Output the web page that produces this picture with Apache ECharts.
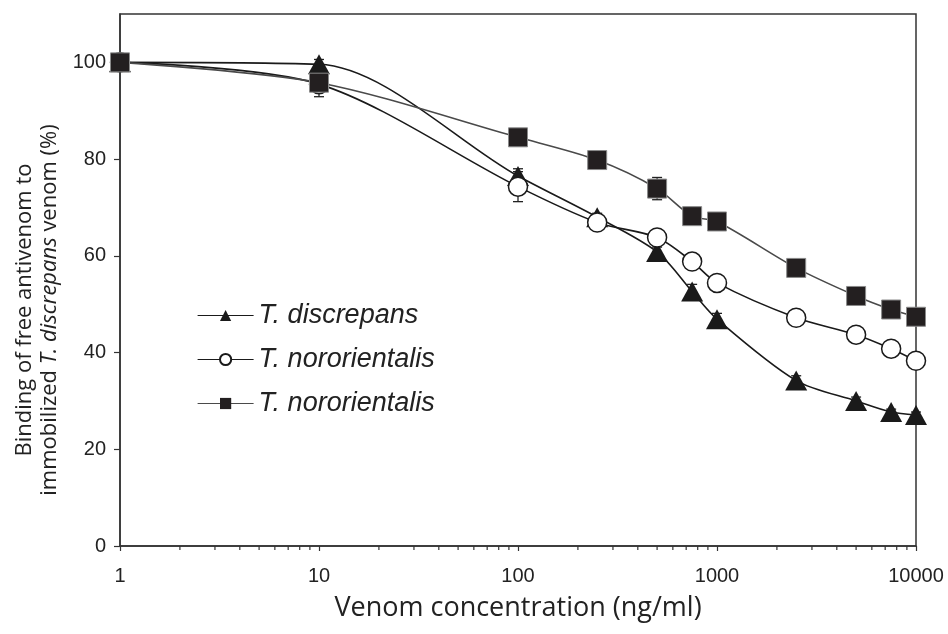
<!DOCTYPE html>
<html>
<head>
<meta charset="utf-8">
<script src="https://cdn.jsdelivr.net/npm/echarts@6/dist/echarts.min.js"></script>
<style>
  html, body { margin: 0; padding: 0; background: #fff; }
  #chart { width: 948px; height: 634px; }
</style>
</head>
<body>
<div id="chart"></div>
<script>
// venom concentration (ng/ml)
const concentrations = [1, 10, 100, 250, 500, 750, 1000, 2500, 5000, 7500, 10000]
// binding (%)
const discrepans = [100, 99.6, 76.5, 68, 60.8, 52.6, 46.9, 34.2, 30.0, 27.7, 27.1]
const nororientalisA = [100, 95.5, 74.3, 66.9, 63.8, 58.8, 54.4, 47.2, 43.7, 40.8, 38.3]
const nororientalisB = [100, 95.8, 84.5, 79.8, 73.9, 68.2, 67.1, 57.5, 51.7, 48.9, 47.4]
// error bars (+/-)
const discrepansErr = [0.5, 1.0, 1.5, 0.8, 1.0, 1.5, 1.2, 1.0, 0.8, 0.6, 0.6]
const nororientalisAErr = [0.5, 1.0, 3.1, 0.8, 0.8, 0.8, 1.2, 0.8, 1.5, 0.8, 0.6]
const nororientalisBErr = [1.8, 2.9, 0.8, 0.8, 2.3, 0.8, 0.6, 0.8, 0.8, 0.6, 0.6]
const seriesNames = ['T. discrepans', 'T. nororientalis', 'T. nororientalis ']
const minorTickValues = [2, 3, 4, 5, 6, 7, 8, 9, 20, 30, 40, 50, 60, 70, 80, 90,
  200, 300, 400, 500, 600, 700, 800, 900, 2000, 3000, 4000, 5000, 6000, 7000, 8000, 9000]
const yTicks = { min: 0, max: 110, interval: 20 }

const chart = echarts.init(document.getElementById('chart'))

function pairs(ys) {
  return concentrations.map((x, i) => [x, ys[i]])
}

function errData(ys, errs) {
  return concentrations.map((x, i) => [x, ys[i], errs[i]])
}

function renderErr(params, api) {
  const x = api.value(0)
  const y = api.value(1)
  const e = api.value(2)
  const top = api.coord([x, y + e])
  const bot = api.coord([x, y - e])
  const hw = 5
  const style = { stroke: '#222', lineWidth: 1.3 }
  return {
    type: 'group',
    children: [
      { type: 'line', shape: { x1: top[0], y1: top[1], x2: bot[0], y2: bot[1] }, style },
      { type: 'line', shape: { x1: top[0] - hw, y1: top[1], x2: top[0] + hw, y2: top[1] }, style },
      { type: 'line', shape: { x1: bot[0] - hw, y1: bot[1], x2: bot[0] + hw, y2: bot[1] }, style }
    ]
  }
}

function renderMinorTick(params, api) {
  const p = api.coord([api.value(0), 0])
  return {
    type: 'line',
    shape: { x1: p[0], y1: p[1], x2: p[0], y2: p[1] + 4 },
    style: { stroke: '#333', lineWidth: 1.2 }
  }
}

const axisFont = { fontFamily: 'Liberation Sans', fontSize: 20, color: '#222' }

chart.setOption({
  animation: false,
  grid: {
    left: 120,
    right: 32,
    top: 14,
    bottom: 88,
    show: true,
    borderColor: '#333',
    borderWidth: 1.5
  },
  legend: {
    orient: 'vertical',
    left: 197,
    top: 302,
    padding: 0,
    itemWidth: 56,
    itemHeight: 14,
    itemGap: 17,
    lineStyle: { width: 1.2 },
    data: [
      { name: seriesNames[0] },
      { name: seriesNames[1] },
      { name: seriesNames[2], itemStyle: { borderWidth: 0 } }
    ],
    textStyle: {
      fontFamily: 'Liberation Sans',
      fontStyle: 'italic',
      fontSize: 27,
      color: '#222'
    }
  },
  xAxis: {
    type: 'log',
    min: 1,
    max: 10000,
    logBase: 10,
    name: 'Venom concentration (ng/ml)',
    nameLocation: 'middle',
    nameGap: 49,
    nameTextStyle: { fontFamily: 'Open Sans', fontSize: 27, color: '#222', verticalAlign: 'top' },
    axisLine: { lineStyle: { color: '#333', width: 1.5 } },
    axisTick: { show: true, length: 5, lineStyle: { color: '#333', width: 1.2 } },
    axisLabel: Object.assign({ margin: 20, formatter: v => String(v) }, axisFont),
    splitLine: { show: false },
    minorTick: { show: false }
  },
  yAxis: {
    type: 'value',
    min: yTicks.min,
    max: yTicks.max,
    interval: yTicks.interval,
    name: '{a|Binding of free antivenom to}\n{a|immobilized }{i|T. discrepans}{a| venom (%)}',
    nameLocation: 'middle',
    nameGap: 58,
    nameTextStyle: {
      padding: [0, 60, 0, 0],
      rich: {
        a: { fontFamily: 'Open Sans', fontSize: 22, color: '#222', lineHeight: 25 },
        i: { fontFamily: 'Open Sans', fontSize: 22, fontStyle: 'italic', color: '#222', lineHeight: 25 }
      }
    },
    axisLine: { show: true, lineStyle: { color: '#333', width: 1.5 } },
    axisTick: { show: true, length: 6, lineStyle: { color: '#333', width: 1.2 } },
    axisLabel: Object.assign({ margin: 14, showMaxLabel: false }, axisFont),
    splitLine: { show: false }
  },
  series: [
    {
      type: 'custom',
      renderItem: renderMinorTick,
      data: minorTickValues.map(v => [v]),
      clip: false,
      silent: true,
      z: 1
    },
    { type: 'custom', renderItem: renderErr, data: errData(discrepans, discrepansErr), z: 1, silent: true },
    { type: 'custom', renderItem: renderErr, data: errData(nororientalisA, nororientalisAErr), z: 1, silent: true },
    { type: 'custom', renderItem: renderErr, data: errData(nororientalisB, nororientalisBErr), z: 1, silent: true },
    {
      name: seriesNames[0],
      type: 'line',
      data: pairs(discrepans),
      smooth: 0.3,
      symbol: 'triangle',
      symbolSize: [22, 20],
      z: 3,
      lineStyle: { color: '#1a1a1a', width: 1.6 },
      itemStyle: { color: '#1a1a1a', borderColor: '#1a1a1a', borderWidth: 0 }
    },
    {
      name: seriesNames[1],
      type: 'line',
      data: pairs(nororientalisA),
      smooth: 0.3,
      symbol: 'circle',
      symbolSize: 19,
      showAllSymbol: true,
      z: 4,
      lineStyle: { color: '#1a1a1a', width: 1.6 },
      itemStyle: { color: '#fff', borderColor: '#1a1a1a', borderWidth: 1.5 }
    },
    {
      name: seriesNames[2],
      type: 'line',
      data: pairs(nororientalisB),
      smooth: 0.3,
      symbol: 'rect',
      symbolSize: 19,
      z: 5,
      lineStyle: { color: '#4a4a4a', width: 1.6 },
      itemStyle: { color: '#231f20', borderColor: '#8a8a8a', borderWidth: 1 }
    }
  ]
})
</script>
</body>
</html>
